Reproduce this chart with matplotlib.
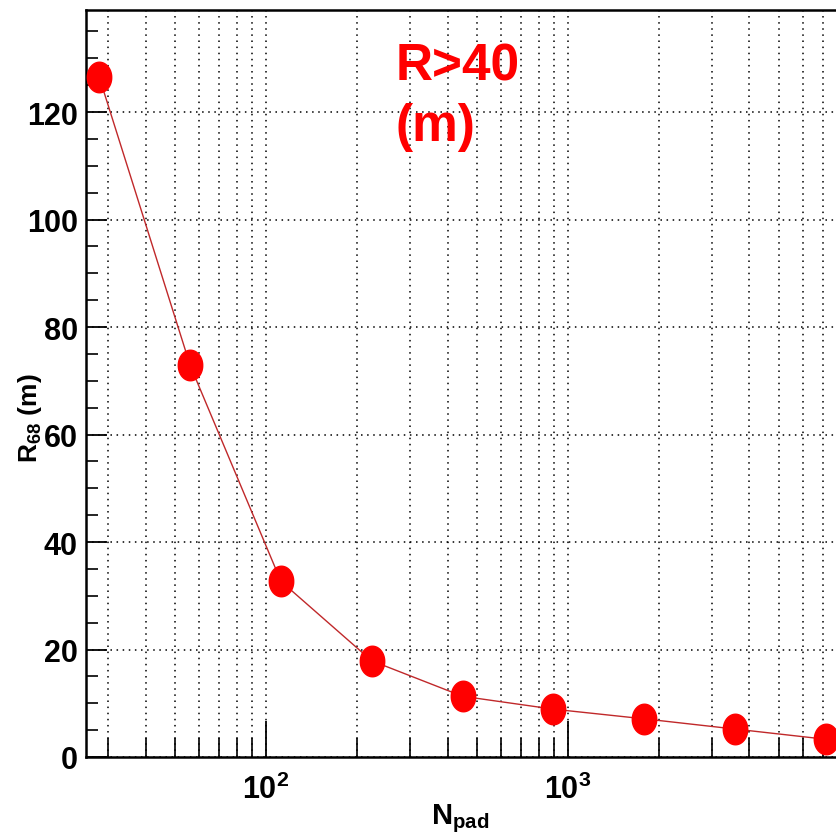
import numpy as np
import matplotlib
matplotlib.use('Agg')
import matplotlib.pyplot as plt
from matplotlib.ticker import LogLocator, FixedLocator, MultipleLocator, NullFormatter

plt.rcParams['font.family'] = ['Liberation Sans', 'DejaVu Sans']
plt.rcParams['font.weight'] = 'bold'
plt.rcParams['mathtext.fontset'] = 'custom'
plt.rcParams['mathtext.rm'] = 'Liberation Sans:bold'
plt.rcParams['mathtext.bf'] = 'Liberation Sans:bold'
plt.rcParams['mathtext.it'] = 'Liberation Sans:bold'

# data
n_pad = [28, 56, 112, 224, 448, 896, 1792, 3584, 7168]
r68 = [126.5, 72.9, 32.7, 17.9, 11.3, 8.9, 7.1, 5.2, 3.3]
y_ticks = [0, 20, 40, 60, 80, 100, 120]
annot = 'R>40\n(m)'

fig = plt.figure(figsize=(8.36, 8.37), dpi=100)
ax = fig.add_axes([86/836, 79/837, (846-86)/836, 747/837])

# taller-than-wide ellipse marker, like the stretched original
t = np.linspace(0, 2*np.pi, 60)
ell = np.column_stack([0.8*np.cos(t), np.sin(t)])

ax.plot(n_pad, r68, color='#c0282a', lw=1.0, zorder=3)
ax.plot(n_pad, r68, ls='none', marker=ell, ms=22, color='#ff0000', mec='#ff0000', zorder=4)

ax.set_xscale('log')
ax.set_xlim(25.3, 8360)
ax.set_ylim(0, 139)

ax.xaxis.set_major_locator(FixedLocator([100, 1000]))
ax.xaxis.set_minor_locator(LogLocator(base=10, subs=np.arange(2, 10), numticks=20))
ax.xaxis.set_minor_formatter(NullFormatter())
ax.set_xticklabels([r'$10^{2}$', r'$10^{3}$'])
ax.yaxis.set_major_locator(FixedLocator(y_ticks))
ax.yaxis.set_minor_locator(MultipleLocator(5))

ax.tick_params(axis='both', which='major', direction='in', width=1.3, labelsize=22, color='black')
ax.tick_params(axis='x', which='major', length=26, pad=12)
ax.tick_params(axis='x', which='minor', direction='in', length=14, width=1.2)
ax.tick_params(axis='y', which='major', length=15, pad=6)
ax.tick_params(axis='y', which='minor', direction='in', length=8.5, width=1.2)

ax.grid(True, which='both', axis='x', ls=(0, (1, 3)), color='black', lw=1.1)
ax.grid(True, which='major', axis='y', ls=(0, (1, 3)), color='black', lw=1.1)

for s in ['left', 'bottom', 'top']:
    ax.spines[s].set_linewidth(1.8)
ax.spines['right'].set_visible(False)

ax.set_ylabel(r'R$_{68}$ (m)', fontsize=19, fontweight='bold')
ax.yaxis.set_label_coords((44-86)/760, 0.455)
ax.set_xlabel(r'N$_{pad}$', fontsize=21, fontweight='bold')
ax.xaxis.set_label_coords((460-86)/760, -0.06)

ax.text(0.407, 0.958, annot, transform=ax.transAxes, color='#ff0000', fontsize=37,
        fontweight='bold', va='top', ha='left', linespacing=1.3)

fig.savefig('out.png', dpi=100)
